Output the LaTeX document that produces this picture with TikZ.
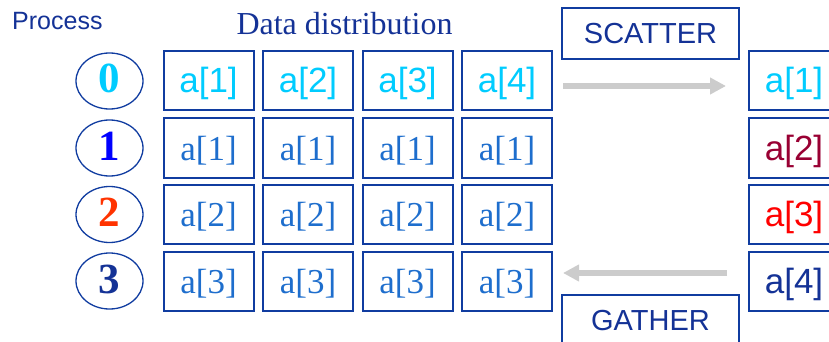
\documentclass[tikz,border=0pt]{standalone}
\usepackage{fontspec}
\setmainfont{Liberation Serif}
\setsansfont{Liberation Sans}
\usetikzlibrary{arrows.meta,shapes.geometric}

\definecolor{frame}{RGB}{16,60,160}
\definecolor{navy}{RGB}{20,50,150}
\definecolor{skyc}{RGB}{0,204,255}
\definecolor{midblue}{RGB}{30,110,205}
\definecolor{pureblue}{RGB}{0,0,255}
\definecolor{orangered}{RGB}{255,51,0}
\definecolor{maroon}{RGB}{153,0,51}
\definecolor{brightred}{RGB}{255,0,0}
\definecolor{arrowgray}{RGB}{204,204,204}

\tikzset{
  cell/.style={draw=frame, line width=2pt, minimum width=90pt, minimum height=59pt,
               inner sep=0pt, text height=27pt, text depth=3pt},
  sanscell/.style={cell, font=\sffamily\fontsize{35}{35}\selectfont},
  serifcell/.style={cell, font=\rmfamily\fontsize{35}{35}\selectfont, text=midblue},
  rank/.style={draw=frame, line width=1.3pt, ellipse, minimum width=67pt,
               minimum height=56pt, inner sep=0pt, text height=29pt, text depth=5pt,
               font=\rmfamily\bfseries\fontsize{43}{43}\selectfont},
  oplabel/.style={draw=frame, line width=2pt, minimum width=177pt, minimum height=51pt,
                  inner sep=0pt, text=navy, font=\sffamily\fontsize{29}{29}\selectfont},
  flow/.style={draw=arrowgray, line width=6pt,
               -{Triangle[length=16pt,width=16pt]}}
}

\begin{document}
\begin{tikzpicture}[x=1pt,y=-1pt]
\useasboundingbox (0,0) rectangle (829,342);
\clip (0,0) rectangle (829,342);

% headings
\node[text=navy, font=\sffamily\fontsize{25}{25}\selectfont, anchor=west, inner sep=0pt]
  (proc) at (12,21) {Process};
\node[text=navy, font=\rmfamily\fontsize{32}{32}\selectfont, inner sep=0pt]
  (dist) at (344.5,24) {Data distribution};

% process ranks
\node[rank, text=skyc]      (p0) at (109.5,81)    {0};
\node[rank, text=pureblue]  (p1) at (109.5,148)   {1};
\node[rank, text=orangered] (p2) at (109.5,214.5) {2};
\node[rank, text=navy]      (p3) at (109.5,281)   {3};

% row 0: the full array on the root
\node[sanscell, text=skyc] (g01) at (208.5,81) {a[1]};
\node[sanscell, text=skyc] (g02) at (308,81)   {a[2]};
\node[sanscell, text=skyc] (g03) at (407.5,81) {a[3]};
\node[sanscell, text=skyc] (g04) at (507,81)   {a[4]};

% rows 1-3
\foreach \r/\y/\v in {1/148/1, 2/214.5/2, 3/281/3}{
  \node[serifcell] (g\r1) at (208.5,\y) {a[\v]};
  \node[serifcell] (g\r2) at (308,\y)   {a[\v]};
  \node[serifcell] (g\r3) at (407.5,\y) {a[\v]};
  \node[serifcell] (g\r4) at (507,\y)   {a[\v]};
}

% distributed pieces
\node[sanscell, text=skyc]       (s0) at (794,81)    {a[1]};
\node[sanscell, text=maroon]     (s1) at (794,148)   {a[2]};
\node[sanscell, text=brightred]  (s2) at (794,214.5) {a[3]};
\node[sanscell, text=navy]       (s3) at (794,281)   {a[4]};

% operation labels
\node[oplabel] (scat) at (650.5,33.5)  {SCATTER};
\node[oplabel] (gath) at (650.5,320.5) {GATHER};

% arrows
\draw[flow, shorten <=10pt, shorten >=22pt] ([yshift=-5pt]g04.east) -- ([yshift=-5pt]s0.west);
\draw[flow, shorten <=21pt, shorten >=10pt] ([yshift=8pt]s3.west) -- ([yshift=8pt]g34.east);
\end{tikzpicture}
\end{document}
